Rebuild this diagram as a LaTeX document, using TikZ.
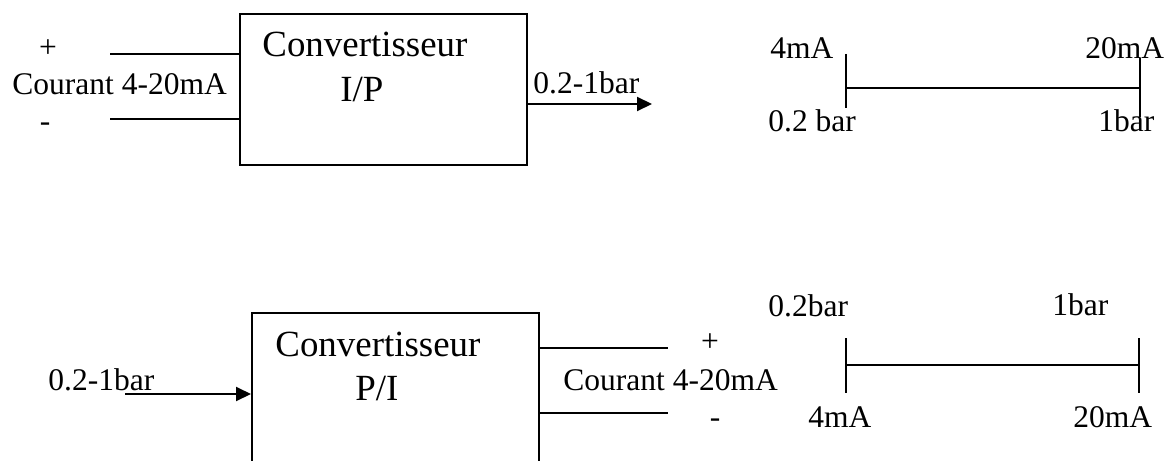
\documentclass[tikz,border=0pt]{standalone}
\usepackage{fontspec}
\setmainfont{Liberation Serif}
\usetikzlibrary{arrows.meta}
\begin{document}
\begin{tikzpicture}[x=0.5pt,y=-0.5pt,
  lbl/.style={inner sep=0pt,anchor=base west,font=\fontsize{15.75pt}{18pt}\selectfont},
  sign/.style={inner sep=0pt,anchor=base,font=\fontsize{15.75pt}{18pt}\selectfont},
  title/.style={inner sep=0pt,anchor=base west,font=\fontsize{18.45pt}{22pt}\selectfont},
  wire/.style={line width=1pt},
  flow/.style={line width=1pt,-{Triangle[length=7.5pt,width=7pt]}},
  unit/.style={draw,line width=1.1pt,rectangle,inner sep=0pt,anchor=north west}]
\useasboundingbox (0,0) rectangle (1171,460);
\clip (0,0) rectangle (1171,460);

% ---------- I/P converter ----------
\node[unit,minimum width=143.5pt,minimum height=75.5pt] (ip) at (239,13) {};
\node[title] (ipname) at (262,57) {Convertisseur};
\node[title] (iptype) at (340,102) {I/P};

% current input
\coordinate (ipplus) at (110,54);
\coordinate (ipminus) at (110,119);
\draw[wire] (ipplus) -- (ipplus -| ip.west);
\draw[wire] (ipminus) -- (ipminus -| ip.west);
\node[sign] (ipp) at (48,58) {+};
\node[lbl] (ipin) at (12,95) {Courant 4-20mA};
\node[sign] (ipm) at (45,132) {-};

% pressure output
\coordinate (ipout) at (652,104);
\draw[flow] (ipout -| ip.east) -- (ipout);
\node[lbl] (ipoutl) at (533,94) {0.2-1bar};

% I/P scale
\coordinate (sa) at (846,88);
\coordinate (sb) at (1140,88);
\draw[wire] (sa) -- (sb);
\draw[wire] ([shift={(0,-34)}]sa) -- ([shift={(0,20)}]sa);
\draw[wire] ([shift={(0,-30)}]sb) -- ([shift={(0,29)}]sb);
\node[lbl] (sa1) at (770,59) {4mA};
\node[lbl] (sb1) at (1085,59) {20mA};
\node[lbl] (sa2) at (768,132) {0.2 bar};
\node[lbl] (sb2) at (1098,132) {1bar};

% ---------- P/I converter ----------
\node[unit,minimum width=143.5pt,minimum height=90pt] (pi) at (251,312) {};
\node[title] (piname) at (275,356) {Convertisseur};
\node[title] (pitype) at (355,400) {P/I};

% pressure input
\coordinate (piin) at (125,394);
\draw[flow] (piin) -- (piin -| pi.west);
\node[lbl] (piinl) at (48,390) {0.2-1bar};

% current output
\coordinate (piplus) at (668,348);
\coordinate (piminus) at (668,413);
\draw[wire] (piplus -| pi.east) -- (piplus);
\draw[wire] (piminus -| pi.east) -- (piminus);
\node[sign] (pip) at (710,351) {+};
\node[lbl] (piout) at (563,390) {Courant 4-20mA};
\node[sign] (pim) at (715,427) {-};

% P/I scale
\coordinate (ta) at (846,365);
\coordinate (tb) at (1139,365);
\draw[wire] (ta) -- (tb);
\draw[wire] ([shift={(0,-27)}]ta) -- ([shift={(0,28)}]ta);
\draw[wire] ([shift={(0,-27)}]tb) -- ([shift={(0,28)}]tb);
\node[lbl] (ta1) at (768,316) {0.2bar};
\node[lbl] (tb1) at (1052,315) {1bar};
\node[lbl] (ta2) at (808,427) {4mA};
\node[lbl] (tb2) at (1073,427) {20mA};
\end{tikzpicture}
\end{document}
